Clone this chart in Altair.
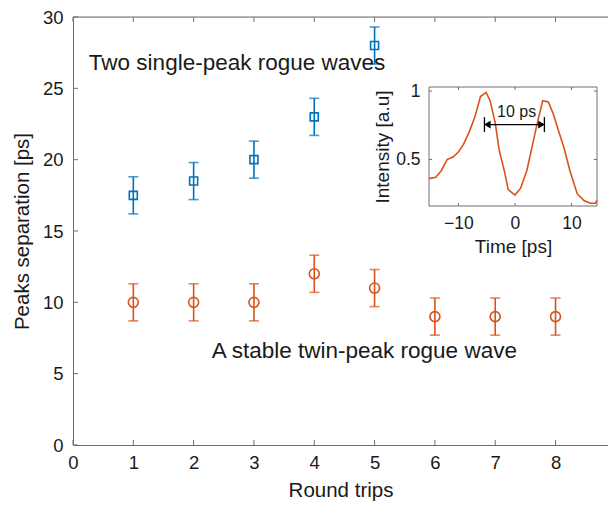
import altair as alt
import pandas as pd

# ---------------- data ----------------
round_blue = [1, 2, 3, 4, 5]
sep_blue = [17.5, 18.5, 20, 23, 28]
err_blue = [1.3, 1.3, 1.3, 1.3, 1.3]

round_orange = [1, 2, 3, 4, 5, 6, 7, 8]
sep_orange = [10, 10, 10, 12, 11, 9, 9, 9]
err_orange = [1.3, 1.3, 1.3, 1.3, 1.3, 1.3, 1.3, 1.3]

x_ticks = [0, 1, 2, 3, 4, 5, 6, 7, 8]
y_ticks = [0, 5, 10, 15, 20, 25, 30]
x_domain = [0, 8.87]
y_domain = [0, 30]

label_texts = ["Two single-peak rogue waves", "A stable twin-peak rogue wave"]
label_x = [2.72, 4.83]
label_y = [26.8, 6.6]

# inset: intensity profile
inset_time = [-15.2, -14.0, -13.0, -12.0, -10.9, -10.0, -9.1, -8.1, -7.1, -6.1, -5.1,
              -4.4, -3.5, -2.8, -1.9, -1.2, 0.0, 1.0, 2.1, 2.9, 3.8, 4.9, 5.9, 6.8,
              7.7, 8.7, 9.7, 11.0, 12.2, 13.3, 14.2, 14.5]
inset_int = [0.36, 0.37, 0.42, 0.50, 0.52, 0.555, 0.61, 0.70, 0.81, 0.96, 0.99,
             0.93, 0.77, 0.57, 0.42, 0.28, 0.24, 0.29, 0.42, 0.57, 0.74, 0.93, 0.92, 0.83,
             0.71, 0.58, 0.42, 0.25, 0.20, 0.18, 0.18, 0.20]
inset_x_domain = [-15.2, 14.5]
inset_y_domain = [0.16, 1.03]
inset_xticks = [-10, 0, 10]
inset_yticks = [0.5, 1]
marker_x = [-5.4, 5.2]
marker_y0 = [0.70, 0.70]
marker_y1 = [0.81, 0.81]
arrow_x = [-4.9, 4.7]
arrow_y = 0.755
arrow_label = "10 ps"
arrow_label_x = 0.3
arrow_label_y = 0.85

BLUE = "#0072BD"
ORANGE = "#D95319"
AX = "#6e6e6e"
TXT = "#1a1a1a"
FONT = "Liberation Sans"

W, H = 535, 428
# inset plot box in pixels inside the main plot area
IX0, IX1, IY0, IY1 = 356, 524, 70, 189

df_blue = pd.DataFrame({"r": round_blue, "s": sep_blue, "e": err_blue})
df_blue["lo"] = df_blue["s"] - df_blue["e"]
df_blue["hi"] = df_blue["s"] + df_blue["e"]
df_or = pd.DataFrame({"r": round_orange, "s": sep_orange, "e": err_orange})
df_or["lo"] = df_or["s"] - df_or["e"]
df_or["hi"] = df_or["s"] + df_or["e"]

xs = alt.Scale(domain=x_domain, nice=False, zero=False)
ys = alt.Scale(domain=y_domain, nice=False)

x_axis = alt.Axis(title="Round trips", values=x_ticks, grid=False, domain=True, domainColor=AX,
                  ticks=False, format="d", labelFlush=False,
                  labelFontSize=18.5, titleFontSize=20.5, labelPadding=8, titlePadding=9,
                  labelColor=TXT, titleColor=TXT, labelFont=FONT, titleFont=FONT,
                  titleFontWeight="normal")
y_axis = alt.Axis(title="Peaks separation [ps]", values=y_ticks, grid=False, domain=True, domainColor=AX,
                  ticks=False, format="d", labelFlush=False,
                  labelFontSize=18.5, titleFontSize=20.5, labelPadding=10, titlePadding=10,
                  labelColor=TXT, titleColor=TXT, labelFont=FONT, titleFont=FONT,
                  titleFontWeight="normal")


def series(df, color, shape, size):
    base = alt.Chart(df)
    rule = base.mark_rule(color=color, strokeWidth=1.6).encode(
        x=alt.X("r:Q", scale=xs, axis=x_axis), y=alt.Y("lo:Q", scale=ys, axis=y_axis), y2="hi:Q")
    cap_lo = base.mark_tick(color=color, orient="horizontal", size=10, thickness=1.6).encode(
        x=alt.X("r:Q", scale=xs, axis=x_axis), y=alt.Y("lo:Q", scale=ys, axis=y_axis))
    cap_hi = base.mark_tick(color=color, orient="horizontal", size=10, thickness=1.6).encode(
        x=alt.X("r:Q", scale=xs, axis=x_axis), y=alt.Y("hi:Q", scale=ys, axis=y_axis))
    pts = base.mark_point(color=color, shape=shape, size=size, filled=False, strokeWidth=1.6,
                          opacity=1).encode(x=alt.X("r:Q", scale=xs, axis=x_axis),
                                            y=alt.Y("s:Q", scale=ys, axis=y_axis))
    return [rule, cap_lo, cap_hi, pts]


df_xt = pd.DataFrame({"t": x_ticks})
df_yt = pd.DataFrame({"t": y_ticks})
ticks_main = [
    alt.Chart(df_xt).mark_rule(color=AX).encode(x=alt.X("t:Q", scale=xs, axis=x_axis), y=alt.value(H), y2=alt.value(H - 5)),
    alt.Chart(df_xt).mark_rule(color=AX).encode(x=alt.X("t:Q", scale=xs, axis=x_axis), y=alt.value(0), y2=alt.value(5)),
    alt.Chart(df_yt).mark_rule(color=AX).encode(y=alt.Y("t:Q", scale=ys, axis=y_axis), x=alt.value(0), x2=alt.value(5)),
]
top_line = alt.Chart(pd.DataFrame({"x0": [x_domain[0]], "x1": [x_domain[1]], "y": [y_domain[1]]})).mark_rule(
    color=AX, strokeWidth=1).encode(x=alt.X("x0:Q", scale=xs, axis=x_axis), x2="x1:Q",
                                    y=alt.Y("y:Q", scale=ys, axis=y_axis))

df_lab = pd.DataFrame({"t": label_texts, "x": label_x, "y": label_y})
labels = alt.Chart(df_lab).mark_text(fontSize=22.5, font=FONT, color=TXT, align="center",
                                     baseline="middle").encode(
    x=alt.X("x:Q", scale=xs, axis=x_axis), y=alt.Y("y:Q", scale=ys, axis=y_axis), text="t:N")

main = alt.layer(*series(df_blue, BLUE, "square", 64), *series(df_or, ORANGE, "circle", 100),
                 *ticks_main, top_line, labels)

# ---------------- inset ----------------
ixs = alt.Scale(domain=inset_x_domain, range=[IX0, IX1], nice=False, zero=False)
iys = alt.Scale(domain=inset_y_domain, range=[IY1, IY0], nice=False, zero=False)

ix_axis = alt.Axis(title="Time [ps]", values=inset_xticks, orient="bottom", offset=-(H - IY1),
                   grid=False, domain=False, ticks=False, labelFontSize=17.5, titleFontSize=19,
                   labelPadding=8, titlePadding=6, labelColor=TXT, titleColor=TXT, labelFlush=False,
                   labelFont=FONT, titleFont=FONT, titleFontWeight="normal", format="d")
iy_axis = alt.Axis(title="Intensity [a.u]", values=inset_yticks, orient="left", offset=-IX0,
                   grid=False, domain=False, ticks=False, labelFontSize=17.5, titleFontSize=19,
                   labelPadding=9, titlePadding=3, labelColor=TXT, titleColor=TXT, labelFlush=False,
                   labelFont=FONT, titleFont=FONT, titleFontWeight="normal", format="~g")

df_frame = pd.DataFrame({"x0": [inset_x_domain[0]], "x1": [inset_x_domain[1]],
                         "y0": [inset_y_domain[0]], "y1": [inset_y_domain[1]]})
frame = alt.Chart(df_frame).mark_rect(fill="white", stroke=AX, strokeWidth=1).encode(
    x=alt.X("x0:Q", scale=ixs, axis=ix_axis), x2="x1:Q",
    y=alt.Y("y0:Q", scale=iys, axis=iy_axis), y2="y1:Q")

df_in = pd.DataFrame({"t": inset_time, "i": inset_int})
line = alt.Chart(df_in).mark_line(color=ORANGE, strokeWidth=1.6).encode(
    x=alt.X("t:Q", scale=ixs, axis=ix_axis), y=alt.Y("i:Q", scale=iys, axis=iy_axis))

df_ixt = pd.DataFrame({"t": inset_xticks})
df_iyt = pd.DataFrame({"t": inset_yticks})
ticks_inset = [
    alt.Chart(df_ixt).mark_rule(color=AX).encode(x=alt.X("t:Q", scale=ixs, axis=ix_axis), y=alt.value(IY1), y2=alt.value(IY1 - 3)),
    alt.Chart(df_ixt).mark_rule(color=AX).encode(x=alt.X("t:Q", scale=ixs, axis=ix_axis), y=alt.value(IY0), y2=alt.value(IY0 + 3)),
    alt.Chart(df_iyt).mark_rule(color=AX).encode(y=alt.Y("t:Q", scale=iys, axis=iy_axis), x=alt.value(IX0), x2=alt.value(IX0 + 3)),
    alt.Chart(df_iyt).mark_rule(color=AX).encode(y=alt.Y("t:Q", scale=iys, axis=iy_axis), x=alt.value(IX1 - 3), x2=alt.value(IX1)),
]

df_mk = pd.DataFrame({"x": marker_x, "y0": marker_y0, "y1": marker_y1})
markers = alt.Chart(df_mk).mark_rule(color="black", strokeWidth=1.3).encode(
    x=alt.X("x:Q", scale=ixs, axis=ix_axis), y=alt.Y("y0:Q", scale=iys, axis=iy_axis), y2="y1:Q")

df_ar = pd.DataFrame({"x0": [arrow_x[0]], "x1": [arrow_x[1]], "y": [arrow_y]})
arrow_line = alt.Chart(df_ar).mark_rule(color="black", strokeWidth=1.3).encode(
    x=alt.X("x0:Q", scale=ixs, axis=ix_axis), x2="x1:Q", y=alt.Y("y:Q", scale=iys, axis=iy_axis))
df_heads = pd.DataFrame({"x": arrow_x, "y": [arrow_y, arrow_y], "shape": ["triangle-left", "triangle-right"]})
heads = alt.Chart(df_heads).mark_point(filled=True, color="black", size=60, opacity=1).encode(
    x=alt.X("x:Q", scale=ixs, axis=ix_axis), y=alt.Y("y:Q", scale=iys, axis=iy_axis),
    shape=alt.Shape("shape:N", scale=None))
df_al = pd.DataFrame({"x": [arrow_label_x], "y": [arrow_label_y], "t": [arrow_label]})
arrow_text = alt.Chart(df_al).mark_text(fontSize=16, font=FONT, color=TXT, align="center",
                                        baseline="middle").encode(
    x=alt.X("x:Q", scale=ixs, axis=ix_axis), y=alt.Y("y:Q", scale=iys, axis=iy_axis), text="t:N")

inset = alt.layer(frame, line, *ticks_inset, markers, arrow_line, heads, arrow_text)

chart = alt.layer(main, inset).resolve_scale(x="independent", y="independent").resolve_axis(
    x="independent", y="independent").properties(
    width=W, height=H,
    autosize=alt.AutoSizeParams(type="none"),
    padding={"left": 65, "top": 9, "right": 0, "bottom": 56},
).configure_view(stroke=None).configure(background="white")

chart.save("out.html", embed_options={"renderer": "svg", "actions": False})
